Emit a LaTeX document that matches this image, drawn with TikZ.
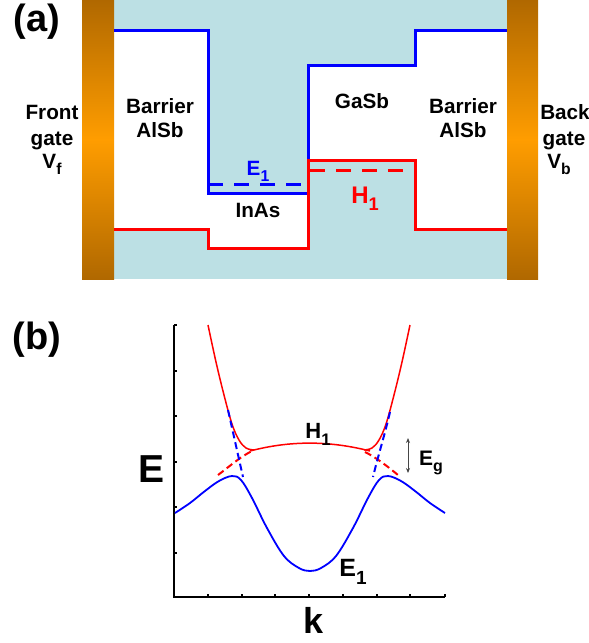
\documentclass[tikz,border=0pt]{standalone}
\usepackage{fontspec}
\setmainfont{Liberation Sans}
\usepackage{graphicx}
\usetikzlibrary{arrows.meta}
\definecolor{bgcyan}{RGB}{188,224,228}
\definecolor{gatedark}{RGB}{176,104,0}
\definecolor{gatelight}{RGB}{255,157,0}
\definecolor{bblue}{RGB}{0,0,255}
\definecolor{rred}{RGB}{255,0,0}
\definecolor{eggray}{RGB}{70,70,70}
\newcommand\sbs[1]{\raisebox{-0.32em}{\scalebox{0.76}{#1}}}
\begin{document}
\begin{tikzpicture}[x=1pt,y=-1pt,
  lbl/.style={inner sep=0pt, anchor=base, font={\fontsize{20.7}{24}\selectfont\bfseries}},
  biglbl/.style={inner sep=0pt, anchor=center, font={\fontsize{39}{44}\selectfont\bfseries}},
  gate/.style={top color=gatedark, bottom color=gatedark, middle color=gatelight},
  bandline/.style={line width=3pt},
  curve/.style={line width=1.8pt},
  dashA/.style={line width=3pt, dash pattern=on 15pt off 11pt},
  dashB/.style={line width=2pt, dash pattern=on 7pt off 4pt},
  tick/.style={line width=1.2pt}]
\useasboundingbox (0,0) rectangle (589,643);
% ---------- panel (a) ----------
\fill[bgcyan] (114,0) rectangle (507,279);
\fill[white] (114,30) rectangle (208,229);
\fill[white] (208,193) rectangle (308,248);
\fill[white] (308,65) rectangle (415,160);
\fill[white] (415,30) rectangle (507,229);
\shade[gate] (82,0) rectangle (114,279);
\shade[gate] (507,0) rectangle (538,279);
\draw[bandline, bblue] (114,30) -| (208,193) -| (308,65) -| (415,30) -- (507,30);
\draw[bandline, rred] (114,229) -| (208,248) -| (308,160) -| (415,229) -- (507,229);
\draw[dashA, bblue] (208,184) -- (308,184);
\draw[dashA, rred] (310,170) -- (410,170);
\node[biglbl, font={\fontsize{38}{44}\selectfont\bfseries}] (pa) at (37,22) {(a)};
\node[lbl] (fg1) at (52,119) {Front};
\node[lbl] (fg2) at (52,145) {gate};
\node[lbl] (fg3) at (52,168) {V\sbs{f}};
\node[lbl] (lb1) at (160,113) {Barrier};
\node[lbl] (lb2) at (160,137) {AlSb};
\node[lbl, text=bblue] (ea) at (258,175) {E\sbs{1}};
\node[lbl] (inas) at (258,217) {InAs};
\node[lbl] (gasb) at (362,108) {GaSb};
\node[lbl] (rb1) at (463,113) {Barrier};
\node[lbl] (rb2) at (463,137) {AlSb};
\node[lbl] (bg1) at (565,119) {Back};
\node[lbl] (bg2) at (564,145) {gate};
\node[lbl] (bg3) at (559,168) {V\sbs{b}};
\node[lbl, text=rred, font={\fontsize{24}{28}\selectfont\bfseries}] (ha) at (365,203) {H\sbs{1}};
% ---------- panel (b) ----------
\node[biglbl, font={\fontsize{38}{44}\selectfont\bfseries}] (pb) at (37,340) {(b)};
\draw[line width=1.5pt] (174,325) -- (174,597) -- (445,597);
\foreach \yy in {325,371,416,462,507,553} \draw[tick] (174,\yy) -- (177,\yy);
\foreach \xx in {208,242,275,309,343,377,410,445} \draw[tick] (\xx,597) -- (\xx,594);
% E1 band
\draw[curve, bblue] plot[smooth, tension=0.6] coordinates {(175,513) (190,503) (205,491) (219,481) (232,476) (241,480) (252,498) (267,528) (284,556) (299,568) (310,571) (321,568) (336,556) (353,528) (368,498) (379,480) (388,476) (401,481) (415,491) (430,503) (445,513)};
% H1 band
\draw[curve, line width=1.5pt, rred] plot[smooth, tension=0.6] coordinates {(208,325) (216,362) (224,395) (232,424) (239,440) (246,448) (254,450)};
\draw[curve, line width=1.5pt, rred] (250,451) .. controls (290,440.5) and (329,440.5) .. (370,451);
\draw[curve, line width=1.5pt, rred] plot[smooth, tension=0.6] coordinates {(364,450) (372,448) (379,440) (386,424) (394,395) (402,362) (410,325)};
% dashed crossings
\draw[dashB, rred] (218,475) .. controls (230,466) and (240,457) .. (252,451);
\draw[dashB, rred] (365,452) .. controls (377,458) and (387,466) .. (398,475);
\draw[dashB, bblue] (228,410) .. controls (233,432) and (238,455) .. (243,477);
\draw[dashB, bblue] (390,412) .. controls (385,434) and (378,456) .. (373,477);
% Eg arrow
\coordinate (egt) at (408,438);
\coordinate (egb) at (408,473);
\draw[eggray, line width=0.9pt, {Stealth[length=5pt,width=4pt]}-{Stealth[length=5pt,width=4pt]}] (egt) -- (egb);
\node[lbl, font={\fontsize{21}{24}\selectfont\bfseries}] (eg) at (431,465) {E\sbs{g}};
\node[lbl, font={\fontsize{22}{26}\selectfont\bfseries}] (hb) at (318,438) {H\sbs{1}};
\node[lbl, font={\fontsize{25}{28}\selectfont\bfseries}] (eb) at (353,576) {E\sbs{1}};
\node[biglbl, anchor=base] (ee) at (152,482) {E};
\node[biglbl, anchor=base, font={\fontsize{36}{40}\selectfont\bfseries}] (kk) at (314,633) {k};
\end{tikzpicture}
\end{document}
